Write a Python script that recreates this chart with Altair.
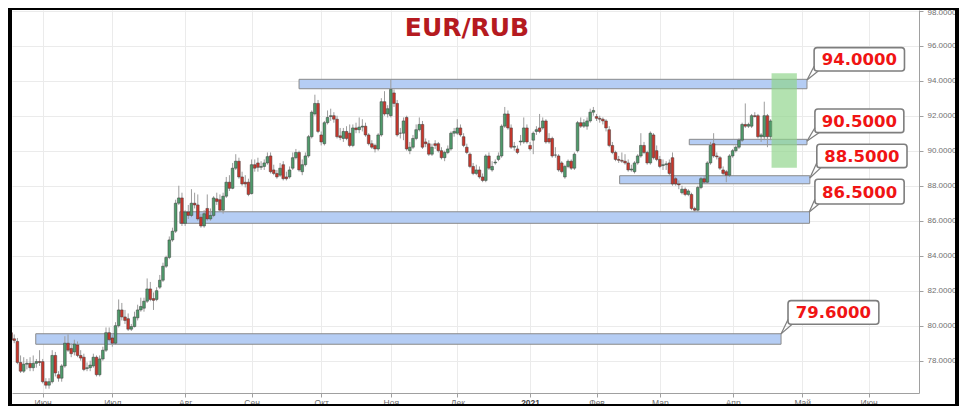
import altair as alt
import pandas as pd

# ---------------- data ----------------
FIRST_DAY = -10  # trading-day index of the first candle (0 = 1 Jun 2020)

OPEN = [
    79.6, 79.25, 79.1, 77.9, 77.4, 77.8, 77.85, 77.6, 77.85, 77.95,
    77.95, 76.8, 76.6, 76.8, 78.3, 77.2, 77.0, 77.7, 79.0, 78.7,
    78.5, 78.9, 78.3, 78.2, 77.55, 77.6, 77.7, 78.2, 77.2, 78.1,
    78.6, 79.6, 79.3, 79.0, 80.0, 80.9, 80.5, 80.4, 79.8, 79.95,
    80.45, 80.9, 81.0, 81.4, 82.1, 81.55, 81.5, 82.2, 82.6, 83.4,
    83.9, 84.9, 85.4, 87.0, 87.3, 85.85, 86.5, 86.3, 87.0, 86.9,
    86.2, 85.7, 86.7, 86.1, 86.3, 87.25, 87.2, 86.6, 87.4, 88.2,
    87.85, 89.0, 89.4, 88.5, 88.2, 88.2, 87.55, 89.2,
    89.3, 89.05, 89.1, 89.3, 89.7, 88.9, 88.7, 88.6, 89.2, 88.5,
    88.5, 89.0, 89.6, 89.9, 88.8, 89.2, 89.7, 90.8, 92.1, 92.7,
    90.9, 90.4, 91.6, 91.95, 92.0, 91.8, 90.85, 90.7, 91.1, 91.0,
    90.3, 91.3, 91.2, 91.35, 91.4, 90.9, 90.4, 90.3, 90.1, 90.9,
    92.8, 92.1, 92.0,
    93.3, 92.7, 91.0, 91.0, 91.9, 90.0, 90.2, 90.7, 91.2, 91.5,
    90.5, 90.4, 89.8, 90.4, 90.4, 90.0, 89.6, 89.9, 90.1, 91.0,
    91.0, 91.3, 90.8, 90.2, 89.8, 89.1, 88.7, 88.9, 88.5, 88.3,
    89.7, 88.9, 89.3, 89.5, 89.7, 91.4, 92.1,
    91.3, 90.2, 90.1, 90.5, 90.5, 91.3, 90.3, 90.6, 91.1, 91.3,
    91.3, 91.7, 90.7, 90.7, 89.75, 89.7, 89.3, 88.5, 89.1, 89.4,
    89.0, 90.0, 91.6, 91.4, 91.4, 91.7, 92.2, 91.95, 91.85, 91.8,
    91.7, 91.2, 90.3, 89.9, 89.5, 89.45, 89.4,
    89.3, 88.9, 88.8, 89.3, 89.7, 90.3, 89.9, 89.3, 90.9, 90.0,
    89.5, 89.15, 89.2, 89.3, 89.6, 88.4, 88.1, 87.6, 87.8, 87.5,
    87.5, 86.7, 86.6, 87.9, 88.4, 88.2, 89.3, 90.4, 89.7, 89.6,
    88.9, 88.8, 88.6, 89.7, 90.0, 90.2, 90.6, 91.5, 91.4, 91.4,
    92.0, 92.0, 90.8, 90.8, 92.0, 90.8,
]
HIGH = [
    79.9, 79.5, 79.3, 78.3, 78.2, 78.1, 78.2, 78.3, 78.1, 78.6,
    78.1, 77.0, 77.0, 78.6, 78.5, 77.4, 77.8, 79.4, 79.5, 79.0,
    79.2, 79.1, 78.6, 78.4, 77.9, 78.0, 78.4, 78.3, 78.3, 78.8,
    79.9, 79.9, 79.5, 80.2, 81.5, 81.3, 80.9, 80.7, 80.1, 80.8,
    81.2, 81.6, 81.6, 82.7, 82.5, 81.9, 82.2, 82.9, 83.6, 84.0,
    85.1, 85.6, 87.2, 88.0, 87.6, 86.6, 86.9, 87.8, 87.6, 87.5,
    86.4, 86.6, 87.5, 86.7, 87.4, 87.6, 87.5, 87.6, 88.5, 88.6,
    89.3, 89.8, 89.6, 88.8, 88.6, 88.4, 89.5, 89.5,
    89.6, 89.4, 89.5, 89.9, 89.9, 89.2, 88.9, 89.3, 89.4, 88.8,
    89.1, 89.9, 90.1, 90.0, 89.5, 89.9, 90.9, 92.3, 93.2, 92.9,
    91.1, 91.7, 92.3, 92.4, 92.2, 92.0, 91.3, 91.3, 91.4, 91.5,
    91.5, 91.6, 91.9, 91.8, 91.6, 91.0, 90.6, 90.4, 91.0, 93.0,
    93.4, 92.6, 94.05,
    93.5, 92.9, 91.3, 91.9, 92.0, 90.5, 90.9, 91.5, 91.9, 91.7,
    90.7, 90.6, 90.4, 90.6, 90.5, 90.2, 90.0, 90.3, 91.1, 91.3,
    91.8, 91.5, 91.0, 90.4, 89.9, 89.3, 89.2, 89.1, 88.7, 89.8,
    89.9, 89.4, 89.5, 89.9, 91.5, 92.5, 92.3,
    91.5, 90.5, 90.3, 90.9, 91.9, 91.5, 90.5, 91.1, 91.4, 92.1,
    91.9, 91.8, 91.0, 90.8, 90.2, 89.8, 89.4, 89.2, 89.5, 89.5,
    89.9, 91.7, 91.9, 91.8, 91.9, 92.4, 92.5, 92.1, 92.0, 91.9,
    91.8, 91.4, 90.5, 90.0, 89.7, 89.9, 89.8,
    89.5, 89.2, 89.4, 89.8, 91.0, 90.5, 90.0, 91.1, 91.0, 90.3,
    89.7, 89.5, 89.4, 89.5, 89.9, 88.5, 88.3, 88.0, 87.9, 87.8,
    87.6, 86.8, 88.0, 88.5, 88.6, 89.4, 90.5, 91.0, 89.9, 89.7,
    89.1, 88.9, 89.8, 90.1, 90.3, 90.7, 91.6, 92.7, 91.6, 92.1,
    92.2, 92.1, 91.0, 92.8, 92.1, 91.8,
]
LOW = [
    78.9, 79.0, 77.8, 77.3, 77.3, 77.5, 77.4, 77.4, 77.6, 77.7,
    76.7, 76.4, 76.4, 76.7, 77.1, 76.8, 76.8, 77.6, 78.5, 78.2,
    78.3, 78.2, 78.0, 77.4, 77.4, 77.4, 77.6, 77.1, 77.1, 78.0,
    78.5, 79.1, 78.8, 78.9, 79.9, 80.3, 80.1, 79.7, 79.7, 79.9,
    80.3, 80.8, 80.8, 81.3, 81.4, 80.9, 81.4, 82.1, 82.5, 83.3,
    83.8, 84.8, 85.3, 86.9, 85.7, 85.7, 86.1, 86.2, 86.7, 86.0,
    85.6, 85.6, 86.0, 86.0, 86.2, 86.9, 86.5, 86.4, 87.3, 87.7,
    87.8, 88.9, 88.4, 88.0, 87.9, 87.4, 87.5, 88.8,
    88.8, 88.9, 88.9, 89.2, 88.7, 88.6, 88.4, 88.5, 88.3, 88.3,
    88.4, 88.9, 89.5, 88.8, 88.6, 89.1, 89.6, 90.7, 92.0, 91.0,
    90.3, 90.3, 91.5, 91.7, 91.6, 90.7, 90.6, 90.5, 90.6, 90.2,
    90.2, 91.0, 91.0, 91.1, 90.8, 90.3, 90.1, 89.9, 90.0, 90.8,
    92.0, 91.9, 91.9,
    92.5, 90.8, 90.7, 90.6, 90.0, 89.8, 90.1, 90.6, 91.1, 90.1,
    90.2, 89.7, 89.7, 90.1, 89.9, 89.5, 89.4, 89.8, 90.0, 90.8,
    90.9, 90.8, 90.2, 89.8, 89.0, 88.6, 88.6, 88.4, 88.2, 88.2,
    88.9, 88.8, 89.2, 89.4, 89.6, 91.3, 91.2,
    90.1, 90.0, 89.8, 90.3, 90.4, 90.4, 90.0, 89.8, 90.9, 91.0,
    91.2, 90.4, 90.4, 89.6, 89.6, 88.8, 88.7, 88.4, 89.0, 88.9,
    88.9, 89.9, 91.3, 91.3, 91.2, 91.6, 92.0, 91.7, 91.6, 91.5,
    91.1, 90.2, 89.8, 89.4, 89.3, 89.3, 89.2,
    88.8, 88.8, 88.7, 89.2, 89.6, 89.8, 89.2, 89.2, 89.5, 89.4,
    89.0, 88.9, 88.9, 88.6, 88.0, 88.0, 87.8, 87.5, 87.4, 87.4,
    86.6, 86.5, 86.5, 87.8, 88.1, 88.1, 89.2, 89.6, 89.5, 88.9,
    88.6, 88.2, 88.5, 89.6, 89.9, 90.1, 90.5, 91.3, 91.3, 91.3,
    91.9, 90.7, 90.5, 90.6, 90.2, 90.6,
]
CLOSE = [
    79.2, 79.15, 77.9, 77.4, 77.8, 77.85, 77.6, 77.85, 77.95, 77.9,
    76.8, 76.6, 76.8, 78.3, 77.3, 77.0, 77.7, 79.0, 78.6, 78.4,
    78.95, 78.3, 78.15, 77.5, 77.6, 77.75, 78.2, 77.2, 78.1, 78.6,
    79.6, 79.2, 79.0, 80.0, 80.9, 80.5, 80.3, 79.8, 79.95, 80.5,
    80.9, 81.1, 81.4, 82.1, 81.5, 81.45, 82.0, 82.6, 83.4, 83.9,
    84.9, 85.4, 87.0, 87.3, 85.85, 86.5, 86.3, 87.0, 86.9, 86.1,
    85.7, 86.4, 86.1, 86.3, 87.3, 87.1, 86.6, 87.4, 88.2, 87.85,
    89.0, 89.4, 88.5, 88.1, 88.1, 87.5, 89.2, 89.0,
    89.05, 89.1, 89.3, 89.66, 88.8, 88.7, 88.5, 89.0, 88.4, 88.4,
    88.9, 89.6, 89.9, 88.9, 89.2, 89.7, 90.8, 92.2, 92.7, 91.1,
    90.5, 91.6, 91.9, 92.0, 91.8, 90.8, 90.75, 91.1, 90.7, 90.3,
    91.3, 91.2, 91.35, 91.4, 90.9, 90.4, 90.2, 90.1, 90.9, 92.8,
    92.1, 92.4, 93.5,
    92.7, 90.9, 91.0, 91.7, 90.1, 90.2, 90.7, 91.2, 91.5, 90.2,
    90.4, 89.8, 90.2, 90.3, 90.0, 89.6, 89.9, 90.1, 91.0, 91.1,
    91.3, 90.9, 90.3, 89.9, 89.1, 88.7, 88.9, 88.5, 88.3, 89.7,
    89.0, 89.1, 89.35, 89.7, 91.4, 92.1, 91.3,
    90.2, 90.25, 89.9, 90.55, 91.3, 90.5, 90.1, 91.0, 91.2, 91.1,
    91.7, 90.5, 90.5, 89.7, 89.75, 88.9, 88.8, 89.1, 89.4, 89.0,
    89.8, 91.6, 91.4, 91.6, 91.7, 92.2, 92.3, 91.85, 91.8, 91.7,
    91.3, 90.3, 89.9, 89.5, 89.45, 89.4, 89.3,
    88.9, 88.95, 89.3, 89.7, 90.3, 89.9, 89.3, 91.0, 89.6, 89.5,
    89.1, 89.2, 89.25, 88.7, 88.1, 88.1, 88.05, 87.8, 87.5, 87.7,
    86.7, 86.6, 87.9, 88.4, 88.2, 89.3, 90.3, 89.7, 89.65, 89.0,
    88.7, 88.6, 89.7, 90.0, 90.2, 90.6, 91.5, 91.4, 91.5, 92.0,
    91.95, 90.8, 90.9, 92.0, 90.8, 91.7,
]

# month ticks (trading-day index of the first weekday of each month)
MONTH_TICKS = [0, 22, 45, 66, 88, 110, 131, 154, 175, 195, 218, 240, 261]
MONTH_LABELS = ["Июн", "Июл", "Авг", "Сен", "Окт", "Ноя", "Дек", "2021",
                "Фев", "Мар", "Апр", "Май", "Июн"]
Y_TICKS = [78, 80, 82, 84, 86, 88, 90, 92, 94, 96, 98]

# support / resistance zones
ZONE_LABEL = ["94.0000", "90.5000", "88.5000", "86.5000", "79.6000"]
ZONE_START = [81.0, 204.3, 182.3, 43.3, -2.2]
ZONE_END = [241.5, 241.5, 242.4, 242.3, 233.3]
ZONE_TOP = [94.08, 90.65, 88.57, 86.51, 79.54]
ZONE_BOTTOM = [93.54, 90.34, 88.11, 85.85, 78.94]

# callout boxes (data coordinates)
BOX_LEFT = [243.75, 244.0, 244.6, 244.0, 235.5]
BOX_RIGHT = [272.3, 272.1, 273.1, 272.2, 264.2]
BOX_TOP = [95.89, 92.38, 90.37, 88.37, 81.43]
BOX_BOTTOM = [94.55, 91.03, 89.03, 86.95, 80.08]
TIP_X = [241.5, 241.5, 242.4, 242.2, 233.3]
TIP_Y = [94.04, 90.55, 88.44, 86.50, 79.53]

# green target box
TARGET = {"start": 230.3, "end": 238.3, "top": 94.42, "bottom": 89.03}

TITLE = "EUR/RUB"

# ---------------- layout / styles ----------------
W, H = 907, 383
X_DOMAIN = [-8.125, 275.31]
Y_DOMAIN = [76.154, 98.04]
GREEN = "#4f9b6b"
RED = "#c9372c"
ZONE_FILL = "#b5cdf4"
GRID = "#ebebeb"
AXIS_C = "#a0a0a0"

candles = pd.DataFrame({
    "day": list(range(FIRST_DAY, FIRST_DAY + len(CLOSE))),
    "open": OPEN, "high": HIGH, "low": LOW, "close": CLOSE,
})
zones = pd.DataFrame({"start": ZONE_START, "end": ZONE_END,
                      "top": ZONE_TOP, "bottom": ZONE_BOTTOM})
boxes = pd.DataFrame({"label": ZONE_LABEL, "l": BOX_LEFT, "r": BOX_RIGHT,
                      "t": BOX_TOP, "b": BOX_BOTTOM})
boxes["cx"] = (boxes["l"] + boxes["r"]) / 2
boxes["cy"] = (boxes["t"] + boxes["b"]) / 2
tails = pd.DataFrame({
    "x1": [l + 1.3 for l in BOX_LEFT] + BOX_LEFT,
    "y1": BOX_BOTTOM + [b + 0.28 for b in BOX_BOTTOM],
    "x2": TIP_X + TIP_X,
    "y2": TIP_Y + TIP_Y,
})
target = pd.DataFrame([TARGET])
one = pd.DataFrame({"k": [0]})

x_scale = alt.Scale(domain=X_DOMAIN, nice=False, zero=False)
y_scale = alt.Scale(domain=Y_DOMAIN, nice=False, zero=False)

label_expr = ("[" + ",".join("'%s'" % s for s in MONTH_LABELS) + "][indexof(["
              + ",".join(str(v) for v in MONTH_TICKS) + "], datum.value)]")

x_axis = alt.Axis(
    values=MONTH_TICKS, labelExpr=label_expr, title=None, grid=True,
    gridColor=GRID, domainColor=AXIS_C, tickColor=AXIS_C, tickSize=4,
    labelFontSize=8.5, labelFont="Liberation Sans", labelPadding=1,
    labelColor={"condition": {"test": "datum.value == 154", "value": "#444444"}, "value": "#707070"},
    labelFontWeight={"condition": {"test": "datum.value == 154", "value": "bold"}, "value": "normal"},
)
y_axis = alt.Axis(
    values=Y_TICKS, format=".4f", orient="right", title=None, grid=True,
    gridColor=GRID, domainColor=AXIS_C, tickColor=AXIS_C, tickSize=4,
    labelFontSize=8, labelFont="Liberation Sans", labelColor="#707070",
    labelPadding=4,
    labelOffset={"condition": {"test": "datum.value == 98", "value": 2}, "value": 0},
)


def X(field):
    return alt.X(field, type="quantitative", scale=x_scale, axis=x_axis)


def Y(field):
    return alt.Y(field, type="quantitative", scale=y_scale, axis=y_axis)


zone_layer = alt.Chart(zones).mark_rect(
    fill=ZONE_FILL, stroke="#8a8a8a", strokeWidth=1, clip=True
).encode(x=X("start"), x2="end", y=Y("top"), y2="bottom")

wick_layer = alt.Chart(candles).mark_rule(
    color="#9c9c9c", strokeWidth=1, clip=True
).encode(x=X("day"), y=Y("low"), y2="high")

body_layer = alt.Chart(candles).mark_bar(
    size=2.7, stroke="#3c3c3c", strokeWidth=0.5, clip=True
).encode(
    x=X("day"), y=Y("open"), y2="close",
    color=alt.when(alt.datum.close >= alt.datum.open)
    .then(alt.value(GREEN)).otherwise(alt.value(RED)),
)

target_layer = alt.Chart(target).mark_rect(
    fill="#8fd48a", opacity=0.68
).encode(x=X("start"), x2="end", y=Y("top"), y2="bottom")

box_layer = alt.Chart(boxes).mark_rect(
    fill="white", stroke="#7e7e7e", strokeWidth=1.6, cornerRadius=3
).encode(x=X("l"), x2="r", y=Y("t"), y2="b")

tail_layer = alt.Chart(tails).mark_rule(
    color="#7e7e7e", strokeWidth=1.2
).encode(x=X("x1"), x2="x2", y=Y("y1"), y2="y2")

text_layer = alt.Chart(boxes).mark_text(
    font="DejaVu Sans", fontWeight="bold", fontSize=16.5, color="#f01414",
    align="center", baseline="middle", dy=1
).encode(x=X("cx"), y=Y("cy"), text="label:N")

title_layer = alt.Chart(one).mark_text(
    text=TITLE, font="DejaVu Sans", fontWeight="bold", fontSize=25,
    color="#b51a20", align="center", baseline="alphabetic"
).encode(x=alt.value(455), y=alt.value(26))


def frame(x1, x2, y1, y2):
    return alt.Chart(one).mark_rect(color="black").encode(
        x=alt.value(x1), x2=alt.value(x2), y=alt.value(y1), y2=alt.value(y2))


frames = [
    frame(-4, 0, -2, 396),
    frame(-4, 947, -2, 0),
    frame(943, 947, -2, 396),
    frame(-4, 947, 394, 396),
]

chart = alt.layer(
    zone_layer, wick_layer, body_layer, target_layer,
    box_layer, tail_layer, text_layer, title_layer, *frames
).properties(
    width=W, height=H,
    autosize=alt.AutoSizeParams(type="none"),
    padding={"left": 4, "top": 2, "right": 40, "bottom": 13},
    background="white",
).configure_view(stroke=None)

chart.save("out.html", embed_options={"renderer": "svg", "actions": False})
